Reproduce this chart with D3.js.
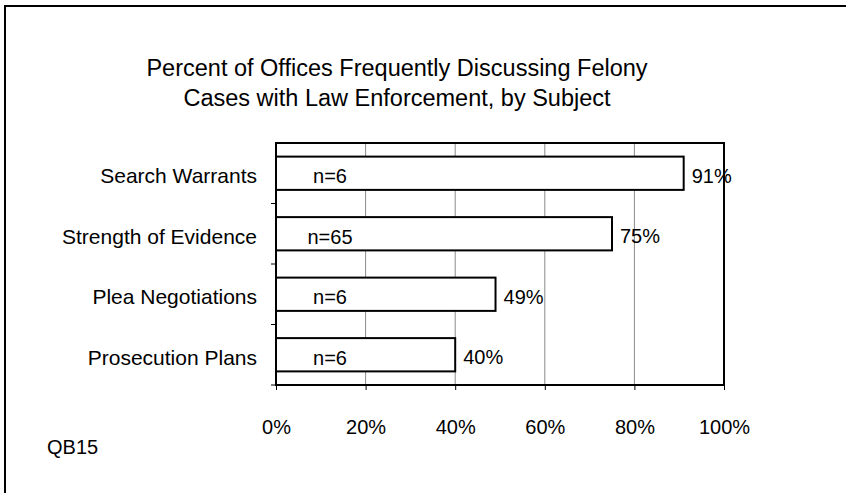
<!DOCTYPE html>
<html><head><meta charset="utf-8">
<script src="https://cdn.jsdelivr.net/npm/d3@7"></script>
<style>body{margin:0;background:#fff}svg{display:block}text{font-family:"Liberation Sans",Arial,sans-serif;fill:#000}</style>
</head><body>
<script>
const categories = ["Search Warrants","Strength of Evidence","Plea Negotiations","Prosecution Plans"];
const values = [91,75,49,40];
const nLabels = ["n=6","n=65","n=6","n=6"];
const tickValues = [0,20,40,60,80,100];
const titleLines = ["Percent of Offices Frequently Discussing Felony","Cases with Law Enforcement, by Subject"];
const footnote = "QB15";

const W=846,H=493;
const svg=d3.select("body").append("svg").attr("width",W).attr("height",H);
const m={l:276,r:724,t:143,b:385};
const x=d3.scaleLinear().domain([0,100]).range([m.l,m.r]);
const y=d3.scaleBand().domain(categories).range([m.t,m.b]).paddingInner(0.45).paddingOuter(0.225);
const fs="20px";

// outer frame (top + left)
svg.append("path").attr("d",`M5,${H} L5,6 L${W},6`).attr("fill","none").attr("stroke","#000").attr("stroke-width",2);

// title
svg.append("text").attr("text-anchor","middle").style("font-size","23.5px")
  .selectAll("tspan").data(titleLines).join("tspan").attr("x",397).attr("y",(d,i)=>76+i*30).text(d=>d);

// gridlines
svg.append("g").selectAll("line").data(tickValues.filter(v=>v>0&&v<100)).join("line")
  .attr("x1",d=>x(d)).attr("x2",d=>x(d)).attr("y1",m.t).attr("y2",m.b)
  .attr("stroke","#8a8a8a").attr("stroke-width",1);

// plot frame
svg.append("rect").attr("x",m.l).attr("y",m.t).attr("width",m.r-m.l).attr("height",m.b-m.t)
  .attr("fill","none").attr("stroke","#000").attr("stroke-width",2);

// bars
svg.append("g").selectAll("rect").data(values).join("rect")
  .attr("x",x(0)).attr("y",(d,i)=>y(categories[i])).attr("width",d=>x(d)-x(0)).attr("height",y.bandwidth())
  .attr("fill","#fff").attr("stroke","#000").attr("stroke-width",2);

// n labels
svg.append("g").selectAll("text").data(nLabels).join("text")
  .attr("x",330).attr("y",(d,i)=>y(categories[i])+y.bandwidth()/2+10).attr("text-anchor","middle")
  .style("font-size",fs).text(d=>d);

// value labels
svg.append("g").selectAll("text").data(values).join("text")
  .attr("x",d=>x(d)+8).attr("y",(d,i)=>y(categories[i])+y.bandwidth()/2+9.5).style("font-size",fs).text(d=>d+"%");

// y axis (ticks at band boundaries)
const step=(m.b-m.t)/categories.length;
svg.append("g").selectAll("line").data(d3.range(1,categories.length+1)).join("line")
  .attr("x1",m.l-5).attr("x2",m.l).attr("y1",d=>m.t+d*step).attr("y2",d=>m.t+d*step).attr("stroke","#000").attr("stroke-width",1);
svg.append("g").selectAll("text").data(categories).join("text")
  .attr("x",257).attr("y",d=>y(d)+y.bandwidth()/2+10).attr("text-anchor","end").style("font-size","21px").text(d=>d);

// x axis
const xa=svg.append("g").attr("transform",`translate(0,${m.b})`)
  .call(d3.axisBottom(x).tickValues(tickValues).tickFormat(d=>d+"%").tickSize(5).tickPadding(30));
xa.select(".domain").remove();
xa.selectAll("line").attr("stroke","#000");
xa.selectAll("text").style("font-size",fs).attr("fill","#000").style("font-family","'Liberation Sans',Arial,sans-serif");

svg.append("text").attr("x",47).attr("y",454).style("font-size",fs).text(footnote);
</script>
</body></html>
